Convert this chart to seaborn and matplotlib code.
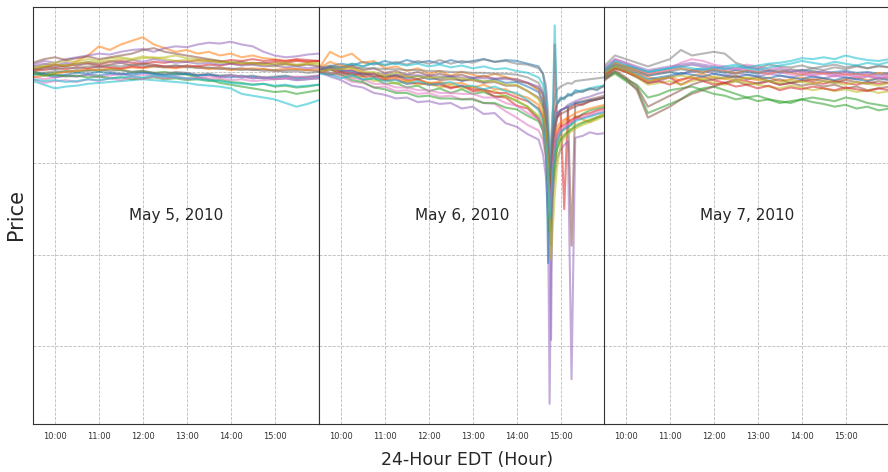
import numpy as np
import pandas as pd
import matplotlib
matplotlib.use("Agg")
import matplotlib.pyplot as plt
import seaborn as sns

# ---------------- data (price change vs. open, in per-mille) ----------------
day_titles = ["May 5, 2010", "May 6, 2010", "May 7, 2010"]
tick_hours = [10, 11, 12, 13, 14, 15]
tick_labels = ["10:00", "11:00", "12:00", "13:00", "14:00", "15:00"]

times_may5 = ["9:30", "9:45", "10:00", "10:15", "10:30", "10:45", "11:00", "11:15", "11:30",
              "11:45", "12:00", "12:15", "12:30", "12:45", "13:00", "13:15", "13:30", "13:45",
              "14:00", "14:15", "14:30", "14:45", "15:00", "15:15", "15:30", "15:45", "16:00"]
times_may7 = list(times_may5)
times_may6 = ["9:30", "9:45", "10:00", "10:15", "10:30", "10:45", "11:00", "11:15", "11:30",
              "11:45", "12:00", "12:15", "12:30", "12:45", "13:00", "13:15", "13:30", "13:45",
              "14:00", "14:15", "14:30", "14:36", "14:40", "14:43", "14:45", "14:47", "14:49",
              "14:52", "14:55", "15:00", "15:05", "15:10", "15:15", "15:20", "15:30", "15:40",
              "15:50", "16:00"]

may5_values = [
    [0,-3,-6,-4,-5,-3,-4,-2,-3,-1,0,-2,-3,-1,-2,-4,-3,-5,-6,-4,-7,-6,-8,-7,-9,-8,-7],
    [0,4,8,6,12,18,28,24,30,34,38,30,26,22,24,20,22,18,20,16,18,15,14,12,13,11,12],
    [0,-2,-1,1,0,2,1,3,2,0,1,-1,0,-2,-3,-6,-8,-12,-14,-16,-18,-20,-22,-21,-24,-22,-20],
    [2,5,8,6,9,10,8,11,12,10,9,11,10,12,11,13,12,11,13,12,14,12,13,12,14,13,12],
    [8,12,10,14,16,18,20,19,22,24,25,22,26,28,27,30,32,31,33,30,28,22,18,16,17,19,20],
    [4,6,5,8,7,9,6,8,10,7,9,8,6,7,5,6,4,5,3,4,2,3,1,2,3,2,1],
    [-5,-8,-6,-4,-5,-3,-6,-4,-2,-5,-3,-4,-6,-5,-7,-6,-8,-7,-9,-8,-10,-9,-8,-7,-9,-8,-7],
    [0,-1,1,0,2,1,3,1,2,0,1,-1,-2,0,-1,-3,-2,-4,-3,-5,-4,-6,-5,-4,-6,-5,-4],
    [5,8,10,12,11,14,12,15,16,14,17,15,16,18,15,14,13,12,10,9,8,7,6,8,7,9,8],
    [-10,-14,-18,-16,-15,-13,-12,-11,-10,-9,-8,-9,-10,-11,-12,-14,-15,-16,-18,-24,-26,-28,-30,-34,-38,-35,-31],
    [-3,-2,-4,-3,-1,-2,0,-1,-2,-3,-1,-2,-4,-3,-2,-4,-3,-5,-4,-6,-5,-7,-6,-5,-7,-6,-5],
    [-6,-4,-2,0,1,3,2,4,3,5,4,6,5,4,6,5,3,4,2,3,4,3,2,4,3,2,3],
    [-2,-4,-3,-5,-4,-6,-5,-7,-6,-8,-7,-6,-8,-7,-9,-8,-10,-9,-11,-12,-14,-13,-16,-15,-17,-16,-14],
    [3,2,4,3,5,4,6,5,4,6,5,7,6,5,7,6,8,7,9,8,10,9,11,10,12,11,12],
    [6,9,7,10,8,11,9,12,10,13,11,14,12,10,11,9,10,8,9,7,8,6,7,5,6,4,5],
    [10,14,16,13,15,17,14,16,18,20,24,26,22,20,18,16,14,12,10,11,9,10,8,9,7,8,6],
    [-8,-12,-10,-9,-11,-8,-10,-7,-9,-6,-8,-5,-7,-6,-8,-7,-5,-6,-4,-5,-7,-6,-8,-7,-5,-6,-4],
    [2,4,3,5,4,6,5,7,6,8,7,6,5,7,6,4,5,3,4,2,3,1,2,0,1,-1,0],
    [4,6,8,7,9,11,10,12,14,13,15,16,14,12,13,11,12,10,11,9,10,8,9,10,8,9,10],
    [-8,-10,-9,-11,-10,-8,-9,-7,-6,-5,-6,-4,-5,-6,-7,-8,-9,-10,-12,-13,-14,-13,-15,-14,-16,-15,-14],
]

may6_values = [
    [2,6,9,7,11,8,12,9,13,10,12,9,13,10,12,14,11,13,12,9,6,-2,-25,-70,-140,-110,-70,-45,-35,-28,-30,-24,-26,-20,-22,-18,-20,-14],
    [4,22,16,20,10,12,4,6,1,4,-2,1,-4,0,-3,-6,-2,-6,-8,-12,-20,-32,-55,-90,-130,-160,-110,-80,-65,-58,-55,-50,-56,-48,-52,-55,-50,-46],
    [0,3,-3,-2,-9,-7,-13,-12,-17,-15,-21,-18,-23,-19,-24,-22,-27,-26,-32,-38,-50,-65,-90,-120,-170,-190,-140,-100,-80,-66,-62,-60,-58,-52,-46,-42,-40,-38],
    [2,5,1,2,-3,-2,-7,-4,-9,-8,-13,-12,-17,-15,-21,-20,-27,-28,-37,-40,-52,-60,-80,-110,-140,-120,-95,30,-50,-42,-150,-40,-38,-35,-36,-32,-30,-28],
    [0,-5,-9,-15,-17,-23,-25,-29,-28,-33,-32,-35,-34,-40,-38,-46,-45,-56,-60,-68,-74,-90,-115,-160,-363,-210,-140,-110,-95,-85,-80,-76,-336,-72,-70,-66,-68,-67],
    [2,5,3,7,2,4,-1,1,-3,0,-4,-2,-5,-3,-7,-4,-8,-6,-10,-12,-18,-25,-45,-80,-120,-140,-100,-70,-50,-42,-40,-38,-190,-34,-32,-30,-28,-26],
    [0,-3,-5,-11,-12,-17,-16,-21,-20,-24,-23,-27,-26,-30,-29,-34,-35,-43,-50,-58,-64,-75,-95,-125,-165,-145,-115,-85,-75,-66,-62,-58,-55,-52,-50,-48,-46,-44],
    [4,7,5,9,6,10,7,11,8,12,9,13,9,12,10,14,11,12,9,8,4,-2,-15,-45,-95,-75,-45,-30,-20,-16,-14,-12,-13,-10,-9,-8,-7,-6],
    [2,-1,-2,-6,-5,-10,-8,-13,-10,-14,-12,-17,-14,-18,-16,-21,-21,-27,-31,-38,-48,-58,-80,-110,-155,-175,-125,-115,-85,-72,-68,-64,-62,-58,-55,-52,-49,-46],
    [0,4,5,9,6,10,8,9,7,9,6,8,5,7,4,6,3,4,1,-1,-6,-14,-35,-65,-105,-85,-55,51,-35,-30,-28,-26,-24,-22,-20,-18,-16,-15],
    [2,5,1,1,-3,-2,-6,-3,-7,-4,-8,-7,-5,-10,-7,-11,-8,-12,-11,-16,-22,-34,-65,-209,-155,-105,-75,-55,-45,-42,-40,-38,-36,-34,-33,-31,-30,-28],
    [4,11,7,5,-1,-2,-7,-6,-11,-8,-12,-11,-13,-12,-17,-14,-19,-19,-25,-28,-36,-48,-70,-100,-135,-115,-90,-70,-60,-55,-52,-50,-48,-45,-42,-40,-38,-36],
    [2,-1,-3,-9,-11,-17,-19,-23,-23,-27,-26,-29,-29,-30,-30,-34,-34,-39,-41,-48,-54,-64,-90,-125,-175,-155,-125,-100,-85,-74,-70,-66,-63,-60,-56,-53,-50,-48],
    [0,3,-1,-1,-5,-5,-9,-8,-13,-12,-14,-14,-18,-15,-19,-19,-23,-23,-28,-32,-40,-50,-70,-95,-130,-145,-105,-85,-70,-60,-58,-55,-52,-50,-47,-45,-42,-40],
    [6,3,3,-1,-1,-2,-2,-3,-3,-4,-4,-5,-5,-6,-6,-7,-7,-8,-8,-12,-16,-24,-45,-85,-125,-293,-95,-65,-48,-42,-40,-36,-34,-32,-29,-27,-24,-22],
    [0,-3,0,-4,-1,-5,-4,-5,-5,-8,-5,-9,-8,-9,-9,-12,-11,-15,-15,-21,-28,-38,-60,-90,-125,-105,-80,-60,-50,-46,-44,-42,-40,-38,-35,-32,-30,-28],
    [2,-1,-2,-7,-8,-13,-13,-17,-17,-20,-20,-23,-23,-24,-24,-28,-28,-34,-37,-45,-52,-62,-85,-115,-155,-135,-105,-80,-68,-62,-60,-57,-55,-52,-50,-47,-44,-42],
    [4,6,5,5,4,4,3,3,2,2,1,1,0,0,-1,-1,-2,-2,-3,-6,-12,-22,-40,-70,-110,-90,-65,-45,-35,-30,-28,-26,-25,-23,-21,-19,-18,-16],
    [0,3,3,4,0,0,-4,-1,-5,-5,-6,-6,-7,-7,-9,-10,-10,-14,-14,-21,-30,-42,-65,-100,-155,-205,-175,-135,-105,-80,-72,-68,-65,-62,-58,-55,-52,-48],
    [-2,-3,-7,-4,-8,-7,-10,-9,-13,-10,-14,-13,-11,-16,-15,-19,-16,-21,-23,-31,-42,-55,-80,-115,-160,-140,-110,-90,-75,-66,-63,-60,-57,-54,-51,-49,-46,-44],
]

may7_values = [
    [0,10,6,2,-4,-2,0,-3,2,4,1,-1,2,0,-2,1,-1,0,2,1,-1,0,1,-1,0,-2,-1],
    [-4,8,4,0,-6,-8,-5,-10,-4,-2,-6,-8,-5,-7,-9,-6,-10,-8,-6,-9,-7,-10,-8,-6,-9,-7,-8],
    [-8,-2,-10,-18,-45,-40,-35,-30,-22,-18,-16,-20,-24,-28,-26,-30,-32,-34,-30,-33,-35,-38,-36,-40,-38,-42,-40],
    [-2,6,2,-4,-10,-8,-6,-14,-8,-5,-9,-12,-8,-10,-13,-10,-14,-12,-9,-11,-13,-10,-12,-14,-11,-13,-12],
    [-6,4,0,-6,-12,-10,-6,-2,0,2,-2,-4,-1,-3,-5,-2,-4,-6,-3,-5,-7,-4,-6,-8,-5,-7,-6],
    [-10,0,-8,-20,-50,-44,-38,-30,-24,-20,-16,-12,-10,-14,-12,-10,-14,-12,-15,-13,-16,-14,-18,-16,-20,-18,-16],
    [2,12,8,4,0,2,4,10,14,12,8,6,4,8,6,3,5,2,0,-3,-1,-4,-2,-5,-3,-6,-4],
    [6,18,14,10,6,10,14,24,18,20,22,20,10,6,4,8,6,5,7,4,6,8,5,7,4,6,5],
    [-4,4,0,-6,-14,-12,-10,-14,-10,-8,-12,-14,-10,-12,-14,-16,-18,-15,-17,-20,-18,-21,-19,-22,-20,-23,-21],
    [0,8,6,4,0,2,4,6,8,6,4,6,8,5,7,9,10,12,15,14,16,14,18,15,13,12,14],
    [-2,6,2,-2,-8,-6,-4,-1,-3,-5,-2,-4,-6,-3,-5,-7,-4,-6,-8,-5,-7,-9,-6,-8,-10,-7,-9],
    [2,10,6,2,-2,0,2,4,2,0,3,1,-1,2,0,-2,1,-1,-3,0,-2,-1,-3,-2,-4,-1,-3],
    [-6,0,-8,-14,-28,-25,-20,-18,-16,-20,-24,-26,-30,-28,-32,-30,-34,-32,-30,-28,-30,-32,-28,-30,-34,-36,-38],
    [-4,4,0,-5,-12,-10,-14,-8,-6,-10,-14,-12,-16,-14,-18,-15,-20,-17,-19,-16,-18,-20,-17,-19,-21,-18,-20],
    [4,14,10,6,2,4,6,8,10,8,6,4,2,5,3,1,3,0,2,-1,1,-2,0,-3,-1,-4,-2],
    [-8,2,-6,-16,-38,-32,-26,-20,-14,-10,-8,-6,-4,-8,-6,-10,-8,-12,-10,-8,-10,-12,-9,-11,-13,-10,-12],
    [0,14,10,4,-2,0,2,6,8,6,4,2,4,2,0,-2,0,-3,-1,-4,-2,-5,-3,-6,-4,-7,-5],
    [2,8,4,0,-4,-2,0,3,1,-1,2,0,-2,1,-1,2,0,3,1,4,2,5,3,6,4,7,5],
    [-2,6,2,-4,-10,-8,-6,-4,-6,-8,-5,-7,-9,-6,-8,-10,-12,-9,-11,-13,-10,-12,-14,-11,-13,-15,-12],
    [2,12,8,4,0,2,4,6,4,2,5,3,6,4,2,5,7,9,12,10,8,11,9,7,10,8,11],
]

# ---------------- build long-form tables ----------------
def to_hours(t):
    h, m = t.split(":")
    return int(h) + int(m) / 60.0

def long_table(times, values):
    rows = []
    hrs = [to_hours(t) for t in times]
    for i, series in enumerate(values):
        for h, v in zip(hrs, series):
            rows.append({"hour": h, "price": 1.0 + v / 1000.0, "stock": f"S{i:02d}"})
    return pd.DataFrame(rows)

tables = [long_table(times_may5, may5_values),
          long_table(times_may6, may6_values),
          long_table(times_may7, may7_values)]

# ---------------- figure ----------------
sns.set_style("white")
plt.rcParams["font.family"] = ["DejaVu Sans"]

fig = plt.figure(figsize=(8.88, 4.72), dpi=100)
W, H = 888.0, 472.0
lefts = [33, 319, 604]
pw = 285.5
top, bottom = 7, 424
palette = sns.color_palette("tab10", 10)

for k, (df, title) in enumerate(zip(tables, day_titles)):
    ax = fig.add_axes([lefts[k] / W, 1 - bottom / H, pw / W, (bottom - top) / H])
    n = df["stock"].nunique()
    pal = [palette[i % 10] for i in range(n)]
    sns.lineplot(data=df, x="hour", y="price", hue="stock", palette=pal,
                 estimator=None, legend=False, ax=ax, alpha=0.55, linewidth=1.5)
    ax.set_xlim(9.5, 16.0)
    ax.set_ylim(0.615, 1.071)
    ax.set_xticks(tick_hours)
    ax.set_xticklabels(tick_labels, fontsize=6)
    ax.set_yticks([0.7, 0.8, 0.9, 1.0])
    ax.set_yticklabels([])
    ax.tick_params(axis="both", direction="out", length=3, width=0.6, colors="#333333", pad=3)
    ax.grid(True, linestyle="--", color="#bbbbbb", linewidth=0.6)
    ax.set_axisbelow(True)
    ax.set_xlabel("")
    ax.set_ylabel("")
    for s in ax.spines.values():
        s.set_color("#333333")
        s.set_linewidth(0.8)
    ax.text(0.5, 0.5, title, transform=ax.transAxes, ha="center", va="center", fontsize=11)

fig.text(16 / W, 1 - 215 / H, "Price", rotation=90, ha="center", va="center", fontsize=15)
fig.text(467 / W, 1 - 460 / H, "24-Hour EDT (Hour)", ha="center", va="center", fontsize=12.5)

fig.savefig("out.png", dpi=100, facecolor="white")
